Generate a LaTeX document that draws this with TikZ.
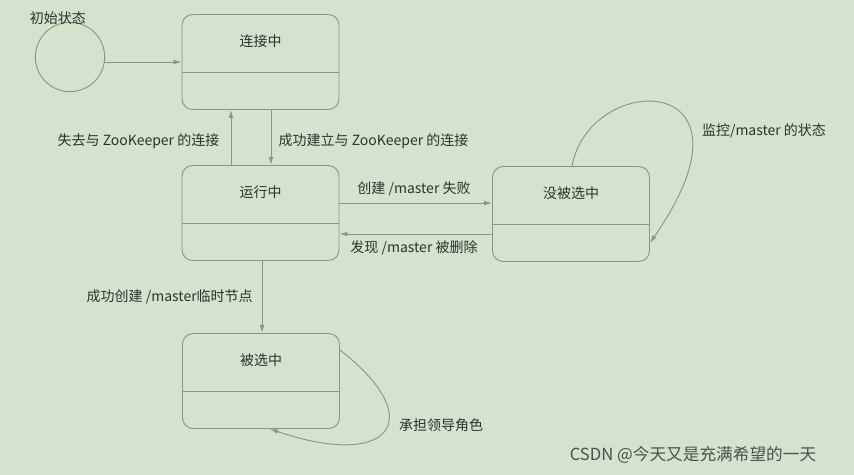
\documentclass[tikz,border=0pt]{standalone}
\usepackage{fontspec}
\setmainfont{Liberation Serif}
\newfontfamily\cjk{Noto Sans CJK SC}
\usetikzlibrary{arrows.meta,positioning}
\definecolor{bgcol}{HTML}{D4E3CD}
\definecolor{linecol}{HTML}{8C938A}
\definecolor{txtcol}{HTML}{2E322E}
\tikzset{state/.style={rectangle,draw=linecol,rounded corners=8pt,minimum width=117.75pt,minimum height=71.25pt,line width=0.7pt},
  trans/.style={draw=linecol,line width=0.7pt,-{Latex[length=6pt,width=3.5pt]}},
  lbl/.style={text=txtcol,font=\cjk\fontsize{10.5}{12}\selectfont}}
\begin{document}
\begin{tikzpicture}[x=0.75pt,y=-0.75pt]
  \fill[bgcol] (0,0) rectangle (854,475);
  \useasboundingbox (0,0) rectangle (854,475);
  % states
  \node[state] (conn) at (260.5,62) {};
  \node[state] (run) at (260.5,213) {};
  \node[state] (idle) at (571,214) {};
  \node[state] (lead) at (261,381) {};
  \foreach \s/\t in {conn/连接中,run/运行中,idle/没被选中,lead/被选中}{
    \draw[linecol,line width=0.7pt] ([yshift=-7.5pt]\s.west) -- ([yshift=-7.5pt]\s.east);
    \node[lbl] at ([yshift=-20pt]\s.north) {\t};
  }
  \node[circle,draw=linecol,line width=0.7pt,minimum size=52pt] (init) at (70,57) {};
  \node[lbl] (initlbl) at (58,18) {初始状态};
  % transitions
  \path[trans] (init.east |- 0,62) -- (conn.west |- 0,62);
  \path[trans] (run.north -| 231,0) -- (conn.south -| 231,0);
  \path[trans] (conn.south -| 271,0) -- (run.north -| 271,0);
  \path[trans] (run.east |- 0,203) -- (idle.west |- 0,203);
  \path[trans] (idle.west |- 0,234) -- (run.east |- 0,234);
  \path[trans] (run.south -| 262,0) -- (lead.north -| 262,0);
  \path[trans] (idle.north -| 572,0) .. controls (590,70) and (770,70) .. (idle.east |- 0,243);
  \path[trans] (lead.east |- 0,350) .. controls (430,420) and (390,470) .. (lead.south -| 270,0);
  % labels
  \node[lbl,anchor=east] (lostlbl) at (224,141) {失去与 ZooKeeper 的连接};
  \node[lbl,anchor=west] (oklbl) at (274,141) {成功建立与 ZooKeeper 的连接};
  \node[lbl] (faillbl) at (414,189) {创建 /master 失败};
  \node[lbl] (dellbl) at (414,248) {发现 /master 被删除};
  \node[lbl] (watchlbl) at (764,131) {监控/master 的状态};
  \node[lbl,anchor=west] (createlbl) at (82,297) {成功创建 /master临时节点};
  \node[lbl] (leadlbl) at (441,425) {承担领导角色};
  \node[text=txtcol!85,font=\cjk\fontsize{12.5}{14}\selectfont] (mark) at (693,455) {CSDN @今天又是充满希望的一天};
\end{tikzpicture}
\end{document}
